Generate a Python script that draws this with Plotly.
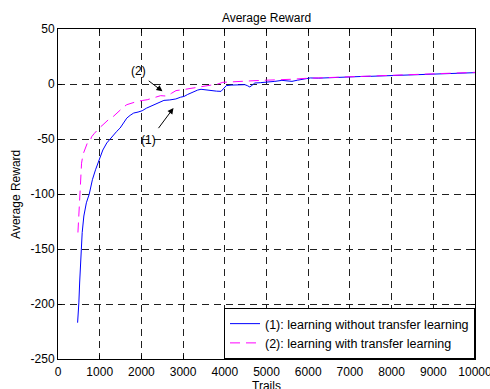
import plotly.graph_objects as go

# Series (1): learning without transfer learning
x1 = [470, 490, 500, 520, 550, 580, 620, 680, 750, 825, 900, 970, 1020, 1075, 1170, 1250, 1330, 1410,
      1490, 1570, 1650, 1730, 1815, 1920, 2020, 2120, 2220, 2320, 2420, 2540, 2680, 2825, 2940, 3025,
      3110, 3190, 3270, 3350, 3430, 3510, 3600, 3710, 3800, 3910, 3970, 4035, 4150, 4300, 4400, 4480,
      4540, 4600, 4660, 4720, 4850, 5045, 5200, 5370, 5480, 5610, 5750, 5900, 6050, 6250, 6500, 6750,
      7000, 7250, 7500, 7750, 8000, 8250, 8500, 8750, 9000, 9250, 9500, 9750, 10000]
y1 = [-217, -208, -199, -180, -150, -135, -120, -108, -100, -87, -78, -71, -67, -60, -53.6, -50, -46, -43,
      -40, -35, -31, -28.5, -26.4, -25.5, -24.3, -22, -20.4, -19, -17.3, -14.9, -14.5, -13.6, -12, -11.3,
      -9.5, -8.2, -6.5, -5.5, -4.8, -5.2, -5.8, -6.7, -6.5, -6.7, -4, -1.5, -1.0, -0.8, -0.6, -0.6,
      -1.5, -2.7, -1, 0.9, 1.2, 1.5, 2.4, 3.3, 2.8, 2.4, 3.5, 4.5, 5.5, 5.3, 5.8, 6.0,
      6.5, 6.8, 7.0, 7.3, 7.6, 8.0, 8.3, 8.6, 9.0, 9.4, 9.7, 10.0, 10.3]

# Series (2): learning with transfer learning
x2 = [478, 490, 500, 512, 525, 545, 565, 600, 650, 700, 770, 805, 870, 930, 990, 1080, 1170, 1250, 1330,
      1410, 1490, 1570, 1650, 1770, 1900, 2020, 2140, 2300, 2460, 2540, 2620, 2720, 2830, 2990, 3110,
      3270, 3430, 3600, 3830, 3950, 4280, 4500, 4700, 4880, 5100, 5370, 5600, 5930, 6200, 6500, 6800,
      7060, 7300, 7600, 8000, 8300, 8600, 9000, 9300, 9600, 10000]
y2 = [-135, -126, -116, -108, -100, -85, -72, -64, -58, -54, -52, -48, -45, -42, -40, -37, -34, -31, -29.4,
      -26.5, -23.4, -21, -18.8, -17.3, -15.8, -15, -14.3, -12.5, -10.6, -10.8, -11, -8.5, -6, -5.2, -4.5,
      -3.7, -3, -2, 0, 1.5, 2.4, 2.8, 3, 3.3, 3.5, 3.9, 4.3, 5.1, 5.5, 6, 6.4,
      6.8, 7.2, 7.6, 8.0, 8.4, 8.8, 9.4, 9.8, 10.2, 10.6]

names = ["(1): learning without transfer learning", "(2): learning with transfer learning"]
x_ticks = list(range(0, 10001, 1000))
y_ticks = list(range(-250, 51, 50))

FONT = "Liberation Sans, Arial, sans-serif"

fig = go.Figure()
fig.add_trace(go.Scatter(x=x1, y=y1, mode="lines", name=names[0],
                         line=dict(color="#0000ff", width=1)))
fig.add_trace(go.Scatter(x=x2, y=y2, mode="lines", name=names[1],
                         line=dict(color="#ff00ff", width=1, dash="10px,6px")))

axis_common = dict(showline=True, linecolor="black", linewidth=1, mirror="ticks",
                   ticks="inside", ticklen=4, tickcolor="black",
                   showgrid=True, gridcolor="#202020", gridwidth=1, griddash="7px,5px",
                   zeroline=False, automargin=False, ticklabeloverflow="allow",
                   tickfont=dict(family=FONT, size=12, color="black"))

fig.update_xaxes(range=[0, 10000], tickvals=x_ticks, ticktext=[str(v) for v in x_ticks],
                 ticklabelstandoff=2, **axis_common)
fig.update_yaxes(range=[-250, 50], tickvals=y_ticks, ticktext=[str(v) for v in y_ticks],
                 **axis_common)

# axis titles as paper annotations
fig.add_annotation(text="Trails", xref="paper", yref="paper", x=0.5, y=-0.082,
                   xanchor="center", yanchor="middle", showarrow=False,
                   font=dict(family=FONT, size=12, color="black"))
fig.add_annotation(text="Average Reward", xref="paper", yref="paper", x=-0.101, y=0.5,
                   xanchor="center", yanchor="middle", textangle=-90, showarrow=False,
                   font=dict(family=FONT, size=12, color="black"))

# annotations: labels and arrows
fig.add_annotation(x=1937, y=11.5, text="(2)", showarrow=False,
                   font=dict(family=FONT, size=12, color="black"))
fig.add_annotation(x=2505, y=-6.7, ax=2140, ay=3.9, axref="x", ayref="y", text="",
                   showarrow=True, arrowhead=2, arrowsize=1.2, arrowwidth=1, arrowcolor="black")
fig.add_annotation(x=2180, y=-50.6, text="(1)", showarrow=False,
                   font=dict(family=FONT, size=12, color="black"))
fig.add_annotation(x=2770, y=-21.8, ax=2383, ay=-41.5, axref="x", ayref="y", text="",
                   showarrow=True, arrowhead=2, arrowsize=1.2, arrowwidth=1, arrowcolor="black")

fig.update_layout(
    width=490, height=389,
    margin=dict(l=58, r=15, t=29, b=30),
    paper_bgcolor="white", plot_bgcolor="white",
    title=dict(text="Average Reward", x=0.5, xref="paper", y=1, yref="paper", yanchor="bottom",
               pad=dict(b=7), font=dict(family=FONT, size=12, color="black")),
    font=dict(family=FONT, size=12, color="black"),
    legend=dict(x=1, xanchor="right", y=0, yanchor="bottom", bgcolor="white",
                bordercolor="black", borderwidth=1, tracegroupgap=0,
                font=dict(family=FONT, size=12.5, color="black")),
    showlegend=True,
)

fig.write_html("out.html")
